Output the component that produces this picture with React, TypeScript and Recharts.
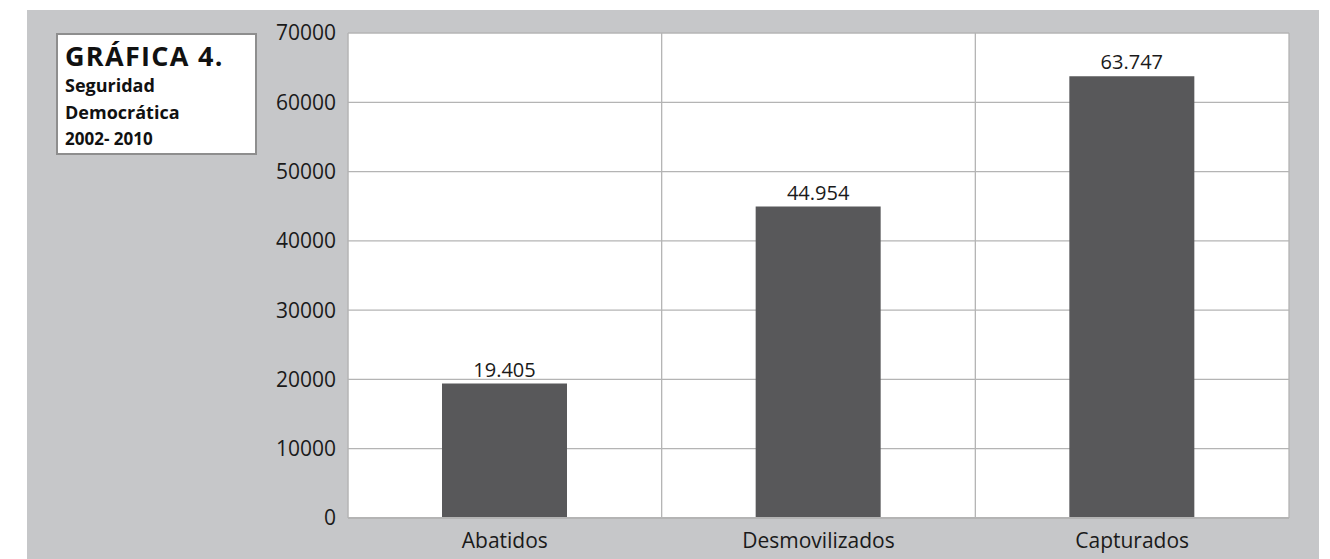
import React from 'react';
import { BarChart, Bar, XAxis, YAxis, CartesianGrid, LabelList } from 'recharts';

const categories = ['Abatidos', 'Desmovilizados', 'Capturados'];
const values = [19405, 44954, 63747];
const yTicks = [0, 10000, 20000, 30000, 40000, 50000, 60000, 70000];

const data = categories.map((name, i) => ({ name, value: values[i] }));

const font = '"Open Sans", Lato, sans-serif';
const fmt = (v: number) => v.toLocaleString('de-DE');

export default function App() {
    return (
        <div style={{ position: 'absolute', left: 0, top: 0, width: 1330, height: 559, background: '#fff', fontFamily: font }}>
            <div style={{ position: 'absolute', left: 27, top: 10, width: 1292, height: 549, background: '#c6c7c9' }} />
            <div style={{ position: 'absolute', left: 0, top: 0 }}>
                <BarChart width={1330} height={559} data={data} margin={{ top: 33, right: 41, bottom: 11, left: 263 }}>
                    <CartesianGrid
                        fill="#ffffff"
                        stroke="#b4b4b4"
                        strokeWidth={1.3}
                        verticalCoordinatesGenerator={({ offset }: any) => [
                            offset.left + offset.width / 3,
                            offset.left + (2 * offset.width) / 3,
                            offset.left + offset.width,
                        ]}
                    />
                    <XAxis
                        dataKey="name"
                        height={30}
                        tickLine={false}
                        axisLine={{ stroke: '#b4b4b4', strokeWidth: 2 }}
                        tickMargin={9}
                        tick={{ fontSize: 21, fill: '#1a1a1a', fontFamily: font }}
                    />
                    <YAxis
                        width={85}
                        domain={[0, 70000]}
                        ticks={yTicks}
                        interval={0}
                        tickLine={false}
                        axisLine={{ stroke: '#b4b4b4', strokeWidth: 1.5 }}
                        tickMargin={6}
                        tick={{ fontSize: 21, fill: '#1a1a1a', fontFamily: font }}
                    />
                    <Bar dataKey="value" fill="#58585a" barSize={125} isAnimationActive={false}>
                        <LabelList dataKey="value" position="top" offset={7} formatter={(v: any) => fmt(v)} style={{ fontSize: 20, fill: '#1a1a1a', fontFamily: font }} />
                    </Bar>
                </BarChart>
            </div>
            <div style={{ position: 'absolute', left: 56, top: 33, width: 201, height: 122, background: '#fff', border: '2px solid #8e8e8e', padding: '0 0 0 7px', boxSizing: 'border-box', color: '#111' }}>
                <div style={{ fontSize: 27, fontWeight: 700, lineHeight: '32px', marginTop: 5, letterSpacing: 1.3 }}>GRÁFICA 4.</div>
                <div style={{ fontSize: 18, fontWeight: 700, lineHeight: '27px' }}>Seguridad</div>
                <div style={{ fontSize: 18, fontWeight: 700, lineHeight: '27px' }}>Democrática</div>
                <div style={{ fontSize: 17, fontWeight: 700, lineHeight: '26px' }}>2002- 2010</div>
            </div>
        </div>
    );
}
